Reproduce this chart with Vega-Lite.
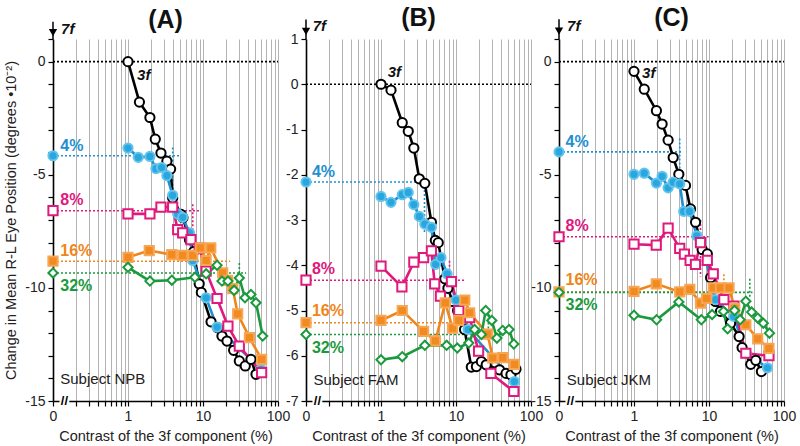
{
"$schema": "https://vega.github.io/schema/vega-lite/v6.json",
"padding": {"left": 3, "top": 5, "right": 4, "bottom": 2},
"background": "white",
"datasets": {
"pts": [
{"p":"A","s":"3f","x":1,"y":0},{"p":"A","s":"3f","x":1.42,"y":-1.79},{"p":"A","s":"3f","x":1.96,"y":-2.47},{"p":"A","s":"3f","x":2.31,"y":-3.43},{"p":"A","s":"3f","x":2.75,"y":-4.04},{"p":"A","s":"3f","x":3.3,"y":-4.4},{"p":"A","s":"3f","x":3.7,"y":-4.75},{"p":"A","s":"3f","x":3.94,"y":-6.03},{"p":"A","s":"3f","x":5.1,"y":-6.75},{"p":"A","s":"3f","x":5.4,"y":-6.9},{"p":"A","s":"3f","x":6.6,"y":-7.87},{"p":"A","s":"3f","x":7.5,"y":-8.4},{"p":"A","s":"3f","x":8.9,"y":-9.82},{"p":"A","s":"3f","x":9.5,"y":-10.2},{"p":"A","s":"3f","x":12.8,"y":-11.5},{"p":"A","s":"3f","x":15.7,"y":-11.76},{"p":"A","s":"3f","x":17.9,"y":-12.13},{"p":"A","s":"3f","x":20.9,"y":-12.35},{"p":"A","s":"3f","x":25.6,"y":-12.76},{"p":"A","s":"3f","x":30.5,"y":-13.23},{"p":"A","s":"3f","x":36.6,"y":-13.45},{"p":"A","s":"3f","x":43.6,"y":-13.16},{"p":"A","s":"3f","x":50.9,"y":-13.82},
{"p":"A","s":"4%","x":1,"y":-3.82},{"p":"A","s":"4%","x":1.37,"y":-4.23},{"p":"A","s":"4%","x":1.96,"y":-4.19},{"p":"A","s":"4%","x":2.36,"y":-4.73},{"p":"A","s":"4%","x":2.8,"y":-4.68},{"p":"A","s":"4%","x":3.3,"y":-5.04},{"p":"A","s":"4%","x":3.94,"y":-5.91},{"p":"A","s":"4%","x":4.6,"y":-6.73},{"p":"A","s":"4%","x":5.36,"y":-6.88},{"p":"A","s":"4%","x":6.6,"y":-7.57},{"p":"A","s":"4%","x":7.3,"y":-8.79},{"p":"A","s":"4%","x":11,"y":-10.44},{"p":"A","s":"4%","x":15.4,"y":-11.73},{"p":"A","s":"4%","x":59.3,"y":-13.6},
{"p":"A","s":"8%","x":1,"y":-6.73},{"p":"A","s":"8%","x":1.96,"y":-6.73},{"p":"A","s":"8%","x":2.75,"y":-6.43},{"p":"A","s":"8%","x":3.94,"y":-6.43},{"p":"A","s":"8%","x":4.6,"y":-7.43},{"p":"A","s":"8%","x":5.36,"y":-7.57},{"p":"A","s":"8%","x":6.9,"y":-7.87},{"p":"A","s":"8%","x":8.9,"y":-8.24},{"p":"A","s":"8%","x":11,"y":-9.26},{"p":"A","s":"8%","x":15.4,"y":-10.47},{"p":"A","s":"8%","x":21.5,"y":-11.69},{"p":"A","s":"8%","x":30.5,"y":-12.57},{"p":"A","s":"8%","x":60.5,"y":-13.75},
{"p":"A","s":"16%","x":1,"y":-8.65},{"p":"A","s":"16%","x":1.92,"y":-8.35},{"p":"A","s":"16%","x":3.84,"y":-8.53},{"p":"A","s":"16%","x":5.36,"y":-8.56},{"p":"A","s":"16%","x":7.3,"y":-8.56},{"p":"A","s":"16%","x":9.2,"y":-8.23},{"p":"A","s":"16%","x":11,"y":-8.79},{"p":"A","s":"16%","x":12.7,"y":-8.23},{"p":"A","s":"16%","x":18.3,"y":-9.34},{"p":"A","s":"16%","x":21.3,"y":-9.67},{"p":"A","s":"16%","x":24.9,"y":-10.03},{"p":"A","s":"16%","x":29,"y":-11.15},{"p":"A","s":"16%","x":41.6,"y":-12.2},{"p":"A","s":"16%","x":60.5,"y":-13.16},
{"p":"A","s":"32%","x":1,"y":-9.09},{"p":"A","s":"32%","x":1.96,"y":-9.7},{"p":"A","s":"32%","x":3.84,"y":-9.66},{"p":"A","s":"32%","x":7.8,"y":-9.53},{"p":"A","s":"32%","x":11,"y":-9.38},{"p":"A","s":"32%","x":15.4,"y":-9.0},{"p":"A","s":"32%","x":17.9,"y":-9.7},{"p":"A","s":"32%","x":21.5,"y":-9.7},{"p":"A","s":"32%","x":26,"y":-10.11},{"p":"A","s":"32%","x":30.5,"y":-9.56},{"p":"A","s":"32%","x":36.3,"y":-10.44},{"p":"A","s":"32%","x":43.6,"y":-10.29},{"p":"A","s":"32%","x":50.9,"y":-10.66},{"p":"A","s":"32%","x":62.5,"y":-12.13},
{"p":"B","s":"3f","x":1,"y":0},{"p":"B","s":"3f","x":1.36,"y":-0.13},{"p":"B","s":"3f","x":1.92,"y":-0.85},{"p":"B","s":"3f","x":2.31,"y":-1.04},{"p":"B","s":"3f","x":2.74,"y":-1.41},{"p":"B","s":"3f","x":3.24,"y":-2.09},{"p":"B","s":"3f","x":3.84,"y":-2.19},{"p":"B","s":"3f","x":4.7,"y":-3.05},{"p":"B","s":"3f","x":5.3,"y":-3.45},{"p":"B","s":"3f","x":5.8,"y":-3.5},{"p":"B","s":"3f","x":7.1,"y":-4.3},{"p":"B","s":"3f","x":7.8,"y":-4.51},{"p":"B","s":"3f","x":9,"y":-4.8},{"p":"B","s":"3f","x":10.5,"y":-5.0},{"p":"B","s":"3f","x":13,"y":-5.42},{"p":"B","s":"3f","x":16,"y":-6.25},{"p":"B","s":"3f","x":18.7,"y":-6.24},{"p":"B","s":"3f","x":21.8,"y":-6.13},{"p":"B","s":"3f","x":25.3,"y":-6.2},{"p":"B","s":"3f","x":38,"y":-6.31},{"p":"B","s":"3f","x":46.5,"y":-6.39},{"p":"B","s":"3f","x":54,"y":-6.42},{"p":"B","s":"3f","x":63,"y":-6.3},
{"p":"B","s":"4%","x":1,"y":-2.48},{"p":"B","s":"4%","x":1.36,"y":-2.61},{"p":"B","s":"4%","x":1.92,"y":-2.44},{"p":"B","s":"4%","x":2.31,"y":-2.39},{"p":"B","s":"4%","x":2.74,"y":-2.66},{"p":"B","s":"4%","x":3.24,"y":-2.92},{"p":"B","s":"4%","x":3.84,"y":-3.09},{"p":"B","s":"4%","x":4.7,"y":-3.16},{"p":"B","s":"4%","x":5.35,"y":-3.98},{"p":"B","s":"4%","x":6.3,"y":-3.83},{"p":"B","s":"4%","x":7.6,"y":-4.19},{"p":"B","s":"4%","x":10,"y":-4.77},{"p":"B","s":"4%","x":14.5,"y":-5.42},{"p":"B","s":"4%","x":60,"y":-6.57},
{"p":"B","s":"8%","x":1,"y":-4.02},{"p":"B","s":"8%","x":1.9,"y":-4.48},{"p":"B","s":"8%","x":2.74,"y":-3.93},{"p":"B","s":"8%","x":3.7,"y":-3.83},{"p":"B","s":"8%","x":4.7,"y":-3.68},{"p":"B","s":"8%","x":5.2,"y":-4.41},{"p":"B","s":"8%","x":6.2,"y":-4.68},{"p":"B","s":"8%","x":8.7,"y":-4.36},{"p":"B","s":"8%","x":10.9,"y":-5.0},{"p":"B","s":"8%","x":15.2,"y":-5.16},{"p":"B","s":"8%","x":20,"y":-5.9},{"p":"B","s":"8%","x":29.2,"y":-6.39},{"p":"B","s":"8%","x":59,"y":-6.79},
{"p":"B","s":"16%","x":1,"y":-5.22},{"p":"B","s":"16%","x":1.92,"y":-5.0},{"p":"B","s":"16%","x":3.7,"y":-5.46},{"p":"B","s":"16%","x":5.3,"y":-5.67},{"p":"B","s":"16%","x":7.2,"y":-4.83},{"p":"B","s":"16%","x":9,"y":-5.39},{"p":"B","s":"16%","x":10.9,"y":-5.22},{"p":"B","s":"16%","x":13.1,"y":-4.77},{"p":"B","s":"16%","x":15.2,"y":-5.05},{"p":"B","s":"16%","x":26.4,"y":-5.52},{"p":"B","s":"16%","x":30.9,"y":-6.05},{"p":"B","s":"16%","x":42,"y":-6.04},{"p":"B","s":"16%","x":60,"y":-6.19},
{"p":"B","s":"32%","x":1,"y":-6.09},{"p":"B","s":"32%","x":1.92,"y":-6.02},{"p":"B","s":"32%","x":3.84,"y":-5.77},{"p":"B","s":"32%","x":7.5,"y":-5.77},{"p":"B","s":"32%","x":10.4,"y":-5.83},{"p":"B","s":"32%","x":14.8,"y":-5.72},{"p":"B","s":"32%","x":17.7,"y":-5.42},{"p":"B","s":"32%","x":21.8,"y":-5.53},{"p":"B","s":"32%","x":24.9,"y":-5.0},{"p":"B","s":"32%","x":30,"y":-5.22},{"p":"B","s":"32%","x":35.1,"y":-5.61},{"p":"B","s":"32%","x":42,"y":-5.44},{"p":"B","s":"32%","x":51,"y":-5.42},{"p":"B","s":"32%","x":59,"y":-5.74},
{"p":"C","s":"3f","x":1,"y":-0.43},{"p":"C","s":"3f","x":1.37,"y":-1.22},{"p":"C","s":"3f","x":1.99,"y":-2.17},{"p":"C","s":"3f","x":2.37,"y":-2.76},{"p":"C","s":"3f","x":2.85,"y":-3.47},{"p":"C","s":"3f","x":3.33,"y":-4.24},{"p":"C","s":"3f","x":3.96,"y":-4.98},{"p":"C","s":"3f","x":4.86,"y":-5.47},{"p":"C","s":"3f","x":5.67,"y":-6.51},{"p":"C","s":"3f","x":6.62,"y":-7.1},{"p":"C","s":"3f","x":8.1,"y":-8.3},{"p":"C","s":"3f","x":9.5,"y":-8.5},{"p":"C","s":"3f","x":10.5,"y":-9.55},{"p":"C","s":"3f","x":12.2,"y":-10.6},{"p":"C","s":"3f","x":14.2,"y":-11.04},{"p":"C","s":"3f","x":19.4,"y":-11.56},{"p":"C","s":"3f","x":25.2,"y":-12.15},{"p":"C","s":"3f","x":27.6,"y":-12.64},{"p":"C","s":"3f","x":36,"y":-13.38},{"p":"C","s":"3f","x":42,"y":-13.2},{"p":"C","s":"3f","x":50,"y":-13.7},
{"p":"C","s":"4%","x":1,"y":-4.98},{"p":"C","s":"4%","x":1.37,"y":-4.93},{"p":"C","s":"4%","x":1.99,"y":-5.37},{"p":"C","s":"4%","x":2.37,"y":-5.07},{"p":"C","s":"4%","x":2.85,"y":-5.58},{"p":"C","s":"4%","x":3.33,"y":-5.33},{"p":"C","s":"4%","x":4.07,"y":-5.4},{"p":"C","s":"4%","x":4.6,"y":-6.62},{"p":"C","s":"4%","x":5.5,"y":-6.62},{"p":"C","s":"4%","x":6.9,"y":-7.7},{"p":"C","s":"4%","x":7.9,"y":-7.95},{"p":"C","s":"4%","x":12.2,"y":-10.52},{"p":"C","s":"4%","x":21.3,"y":-11.26},{"p":"C","s":"4%","x":31.3,"y":-12.89},{"p":"C","s":"4%","x":60,"y":-13.53},
{"p":"C","s":"8%","x":1,"y":-8.07},{"p":"C","s":"8%","x":1.98,"y":-8.11},{"p":"C","s":"8%","x":2.85,"y":-7.36},{"p":"C","s":"8%","x":4.07,"y":-8.25},{"p":"C","s":"8%","x":4.7,"y":-8.51},{"p":"C","s":"8%","x":5.6,"y":-8.78},{"p":"C","s":"8%","x":6.6,"y":-8.96},{"p":"C","s":"8%","x":7.7,"y":-8.0},{"p":"C","s":"8%","x":9.5,"y":-8.78},{"p":"C","s":"8%","x":11.4,"y":-9.38},{"p":"C","s":"8%","x":15.8,"y":-10.52},{"p":"C","s":"8%","x":21.5,"y":-10.81},{"p":"C","s":"8%","x":31,"y":-12.89},{"p":"C","s":"8%","x":63,"y":-13.0},
{"p":"C","s":"16%","x":1,"y":-10.15},{"p":"C","s":"16%","x":1.98,"y":-9.82},{"p":"C","s":"16%","x":4.07,"y":-10.18},{"p":"C","s":"16%","x":5.55,"y":-10.07},{"p":"C","s":"16%","x":7.7,"y":-10.67},{"p":"C","s":"16%","x":9.3,"y":-10.47},{"p":"C","s":"16%","x":11.4,"y":-10.0},{"p":"C","s":"16%","x":14.2,"y":-10.0},{"p":"C","s":"16%","x":18.5,"y":-10.0},{"p":"C","s":"16%","x":22,"y":-10.9},{"p":"C","s":"16%","x":31,"y":-11.63},{"p":"C","s":"16%","x":44.6,"y":-12.25},{"p":"C","s":"16%","x":63,"y":-12.67},
{"p":"C","s":"32%","x":1,"y":-11.21},{"p":"C","s":"32%","x":2,"y":-11.41},{"p":"C","s":"32%","x":3.96,"y":-10.62},{"p":"C","s":"32%","x":7.9,"y":-11.41},{"p":"C","s":"32%","x":11,"y":-11.18},{"p":"C","s":"32%","x":15.6,"y":-11.04},{"p":"C","s":"32%","x":17.7,"y":-11.81},{"p":"C","s":"32%","x":21.9,"y":-11.0},{"p":"C","s":"32%","x":26,"y":-11.41},{"p":"C","s":"32%","x":31,"y":-10.59},{"p":"C","s":"32%","x":37,"y":-11.07},{"p":"C","s":"32%","x":44.6,"y":-11.33},{"p":"C","s":"32%","x":53,"y":-11.56},{"p":"C","s":"32%","x":64,"y":-12.0}
],
"zp": [
{"p":"A","s":"4%","x":0.1,"y":-4.16},{"p":"A","s":"8%","x":0.1,"y":-6.59},{"p":"A","s":"16%","x":0.1,"y":-8.82},{"p":"A","s":"32%","x":0.1,"y":-9.34},
{"p":"B","s":"4%","x":0.1,"y":-2.16},{"p":"B","s":"8%","x":0.1,"y":-4.33},{"p":"B","s":"16%","x":0.1,"y":-5.27},{"p":"B","s":"32%","x":0.1,"y":-5.53},
{"p":"C","s":"4%","x":0.1,"y":-3.99},{"p":"C","s":"8%","x":0.1,"y":-7.74},{"p":"C","s":"16%","x":0.1,"y":-10.18},{"p":"C","s":"32%","x":0.1,"y":-10.2}
],
"hl": [
{"p":"A","s":"3f","x":0.1,"x2":100,"y":0},{"p":"A","s":"4%","x":0.1,"x2":4.8,"y":-4.16},{"p":"A","s":"8%","x":0.1,"x2":8.9,"y":-6.59},{"p":"A","s":"16%","x":0.1,"x2":23,"y":-8.82},{"p":"A","s":"32%","x":0.1,"x2":37.6,"y":-9.34},
{"p":"B","s":"3f","x":0.1,"x2":100,"y":0},{"p":"B","s":"4%","x":0.1,"x2":4.27,"y":-2.16},{"p":"B","s":"8%","x":0.1,"x2":13.1,"y":-4.33},{"p":"B","s":"16%","x":0.1,"x2":16,"y":-5.27},{"p":"B","s":"32%","x":0.1,"x2":19.5,"y":-5.53},
{"p":"C","s":"3f","x":0.1,"x2":100,"y":0},{"p":"C","s":"4%","x":0.1,"x2":4.37,"y":-3.99},{"p":"C","s":"8%","x":0.1,"x2":9.9,"y":-7.74},{"p":"C","s":"16%","x":0.1,"x2":16,"y":-10.18},{"p":"C","s":"32%","x":0.1,"x2":38,"y":-10.2}
],
"vl": [
{"p":"A","s":"4%","x":3.94,"y":-3.8,"y2":-5.9},{"p":"A","s":"8%","x":7.3,"y":-6.3,"y2":-8.1},{"p":"A","s":"16%","x":12.5,"y":-8.5,"y2":-9.3},{"p":"A","s":"32%","x":30.5,"y":-8.9,"y2":-9.6},
{"p":"B","s":"4%","x":3.8,"y":-2.16,"y2":-3.3},{"p":"B","s":"8%","x":8.2,"y":-3.9,"y2":-4.6},{"p":"B","s":"16%","x":14,"y":-4.9,"y2":-5.6},{"p":"B","s":"32%","x":27,"y":-5.0,"y2":-5.7},
{"p":"C","s":"4%","x":4.07,"y":-3.4,"y2":-5.7},{"p":"C","s":"8%","x":7.7,"y":-7.0,"y2":-9.5},{"p":"C","s":"16%","x":15.8,"y":-9.4,"y2":-10.6},{"p":"C","s":"32%","x":35,"y":-9.6,"y2":-10.4}
],
"lab": [
{"p":"A","s":"4%","t":"4%","x":0.125,"y":-3.75},{"p":"A","s":"8%","t":"8%","x":0.125,"y":-6.13},{"p":"A","s":"16%","t":"16%","x":0.125,"y":-8.38},{"p":"A","s":"32%","t":"32%","x":0.125,"y":-9.93},
{"p":"B","s":"4%","t":"4%","x":0.12,"y":-1.94},{"p":"B","s":"8%","t":"8%","x":0.12,"y":-4.09},{"p":"B","s":"16%","t":"16%","x":0.12,"y":-5.02},{"p":"B","s":"32%","t":"32%","x":0.12,"y":-5.83},
{"p":"C","s":"4%","t":"4%","x":0.122,"y":-3.55},{"p":"C","s":"8%","t":"8%","x":0.122,"y":-7.25},{"p":"C","s":"16%","t":"16%","x":0.122,"y":-9.67},{"p":"C","s":"32%","t":"32%","x":0.122,"y":-10.74}
],
"itx": [
{"p":"A","t":"3f","x":1.32,"y":-0.59},{"p":"A","t":"7f","x":0.128,"y":1.46},
{"p":"B","t":"3f","x":1.23,"y":0.26},{"p":"B","t":"7f","x":0.123,"y":1.28},
{"p":"C","t":"3f","x":1.28,"y":-0.5},{"p":"C","t":"7f","x":0.128,"y":1.57}
],
"arr": [
{"p":"A","x":0.1,"y":1,"y2":1.76,"ya":1.28},
{"p":"B","x":0.1,"y":1,"y2":1.43,"ya":1.17},
{"p":"C","x":0.1,"y":1,"y2":1.87,"ya":1.35}
],
"sub": [
{"p":"A","t":"Subject NPB","x":0.125,"y":-14.04},
{"p":"B","t":"Subject FAM","x":0.126,"y":-6.53},
{"p":"C","t":"Subject JKM","x":0.127,"y":-14.08}
],
"brk": [
{"p":"A","x":0.122,"x2":0.165,"xt":0.142,"y":-15},
{"p":"B","x":0.122,"x2":0.165,"xt":0.142,"y":-7},
{"p":"C","x":0.122,"x2":0.165,"xt":0.142,"y":-15}
]
},
"hconcat": [
{
"width": 225, "height": 362,
"title": {"text": "(A)"},
"layer": [
{"data": {"name": "hl"}, "transform": [{"filter": "datum.p == 'A'"}],
 "mark": {"type": "rule", "strokeDash": [2, 2], "strokeWidth": 1.6},
 "encoding": {
  "x": {"field": "x", "type": "quantitative", "scale": {"type": "log", "domain": [0.1, 100], "nice": false},
   "axis": {"values": [0.1,0.2,0.3,0.4,0.5,0.6,0.7,0.8,0.9,1,2,3,4,5,6,7,8,9,10,20,30,40,50,60,70,80,90,100], "tickCount": 40, "grid": true, "gridColor": "#b3b3b3", "gridWidth": 1, "labelExpr": "datum.value < 0.15 ? '0' : ((datum.value == 1 || datum.value == 10 || datum.value == 100) ? toString(datum.value) : '')", "title": "Contrast of the 3f component (%)", "labelOverlap": false, "labelFlush": false, "tickSize": 5, "labelPadding": 3, "titlePadding": 6}},
  "x2": {"field": "x2"},
  "y": {"field": "y", "type": "quantitative", "scale": {"domain": [-15, 1], "nice": false, "zero": false},
   "axis": {"values": [-15,-14,-13,-12,-11,-10,-9,-8,-7,-6,-5,-4,-3,-2,-1,0,1], "tickCount": 30, "grid": false, "labelExpr": "abs(round(datum.value)) % 5 == 0 ? toString(round(datum.value)) : ''", "title": "Change in Mean R-L Eye Position (degrees •10⁻²)", "labelOverlap": false, "tickSize": 5, "labelPadding": 3, "titlePadding": 6}},
  "color": {"field": "s", "type": "nominal", "scale": {"domain": ["3f","4%","8%","16%","32%"], "range": ["#000000","#1e90d0","#e0197d","#f08519","#1a9a3c"]}, "legend": null}
 }},
{"data": {"name": "vl"}, "transform": [{"filter": "datum.p == 'A'"}],
 "mark": {"type": "rule", "strokeDash": [2, 2], "strokeWidth": 1.6},
 "encoding": {"x": {"field": "x", "type": "quantitative"}, "y": {"field": "y", "type": "quantitative"}, "y2": {"field": "y2"}, "color": {"field": "s", "type": "nominal", "legend": null}}},
{"data": {"name": "pts"}, "transform": [{"filter": "datum.p == 'A'"}],
 "mark": {"type": "line", "strokeWidth": 2.6},
 "encoding": {"x": {"field": "x", "type": "quantitative"}, "y": {"field": "y", "type": "quantitative"}, "color": {"field": "s", "type": "nominal", "legend": null}}},
{"data": {"name": "pts"}, "transform": [{"filter": "datum.p == 'A'"}],
 "mark": {"type": "point", "strokeWidth": 2, "size": 85, "opacity": 1},
 "encoding": {"x": {"field": "x", "type": "quantitative"}, "y": {"field": "y", "type": "quantitative"},
  "shape": {"field": "s", "type": "nominal", "scale": {"domain": ["3f","4%","8%","16%","32%"], "range": ["circle","circle","square","square","diamond"]}, "legend": null},
  "fill": {"field": "s", "type": "nominal", "scale": {"domain": ["3f","4%","8%","16%","32%"], "range": ["#ffffff","#2aa6de","#ffffff","#f28a22","#ffffff"]}, "legend": null},
  "stroke": {"field": "s", "type": "nominal", "scale": {"domain": ["3f","4%","8%","16%","32%"], "range": ["#000000","#62c4ee","#e0197d","#f7a654","#1a9a3c"]}, "legend": null}}},
{"data": {"name": "zp"}, "transform": [{"filter": "datum.p == 'A'"}],
 "mark": {"type": "point", "strokeWidth": 2, "size": 85, "opacity": 1},
 "encoding": {"x": {"field": "x", "type": "quantitative"}, "y": {"field": "y", "type": "quantitative"},
  "shape": {"field": "s", "type": "nominal", "legend": null}, "fill": {"field": "s", "type": "nominal", "legend": null}, "stroke": {"field": "s", "type": "nominal", "legend": null}}},
{"data": {"name": "lab"}, "transform": [{"filter": "datum.p == 'A'"}],
 "mark": {"type": "text", "align": "left", "baseline": "middle", "fontSize": 16, "fontWeight": "bold"},
 "encoding": {"x": {"field": "x", "type": "quantitative"}, "y": {"field": "y", "type": "quantitative"}, "text": {"field": "t"}, "color": {"field": "s", "type": "nominal", "legend": null}}},
{"data": {"name": "itx"}, "transform": [{"filter": "datum.p == 'A'"}],
 "mark": {"type": "text", "align": "left", "baseline": "middle", "fontSize": 15, "fontWeight": "bold", "fontStyle": "italic", "color": "#111"},
 "encoding": {"x": {"field": "x", "type": "quantitative"}, "y": {"field": "y", "type": "quantitative"}, "text": {"field": "t"}}},
{"data": {"name": "arr"}, "transform": [{"filter": "datum.p == 'A'"}],
 "mark": {"type": "rule", "color": "#000", "strokeWidth": 1.5},
 "encoding": {"x": {"field": "x", "type": "quantitative"}, "y": {"field": "y", "type": "quantitative"}, "y2": {"field": "y2"}}},
{"data": {"name": "arr"}, "transform": [{"filter": "datum.p == 'A'"}],
 "mark": {"type": "point", "shape": "triangle-down", "filled": true, "color": "#000", "size": 70, "opacity": 1},
 "encoding": {"x": {"field": "x", "type": "quantitative"}, "y": {"field": "ya", "type": "quantitative"}}},
{"data": {"name": "sub"}, "transform": [{"filter": "datum.p == 'A'"}],
 "mark": {"type": "text", "align": "left", "baseline": "middle", "fontSize": 15, "color": "#222"},
 "encoding": {"x": {"field": "x", "type": "quantitative"}, "y": {"field": "y", "type": "quantitative"}, "text": {"field": "t"}}},
{"data": {"name": "brk"}, "transform": [{"filter": "datum.p == 'A'"}],
 "mark": {"type": "rule", "color": "#ffffff", "strokeWidth": 4},
 "encoding": {"x": {"field": "x", "type": "quantitative"}, "x2": {"field": "x2"}, "y": {"field": "y", "type": "quantitative"}}},
{"data": {"name": "brk"}, "transform": [{"filter": "datum.p == 'A'"}],
 "mark": {"type": "text", "text": "//", "align": "center", "baseline": "middle", "fontSize": 13, "fontWeight": "bold", "color": "#000"},
 "encoding": {"x": {"field": "xt", "type": "quantitative"}, "y": {"field": "y", "type": "quantitative"}}}
]
},
{
"width": 225, "height": 362,
"title": {"text": "(B)"},
"layer": [
{"data": {"name": "hl"}, "transform": [{"filter": "datum.p == 'B'"}],
 "mark": {"type": "rule", "strokeDash": [2, 2], "strokeWidth": 1.6},
 "encoding": {
  "x": {"field": "x", "type": "quantitative", "scale": {"type": "log", "domain": [0.1, 100], "nice": false},
   "axis": {"values": [0.1,0.2,0.3,0.4,0.5,0.6,0.7,0.8,0.9,1,2,3,4,5,6,7,8,9,10,20,30,40,50,60,70,80,90,100], "tickCount": 40, "grid": true, "gridColor": "#b3b3b3", "gridWidth": 1, "labelExpr": "datum.value < 0.15 ? '0' : ((datum.value == 1 || datum.value == 10 || datum.value == 100) ? toString(datum.value) : '')", "title": "Contrast of the 3f component (%)", "labelOverlap": false, "labelFlush": false, "tickSize": 5, "labelPadding": 3, "titlePadding": 6}},
  "x2": {"field": "x2"},
  "y": {"field": "y", "type": "quantitative", "scale": {"domain": [-7, 1], "nice": false, "zero": false},
   "axis": {"values": [-7,-6,-5,-4,-3,-2,-1,0,1], "tickCount": 30, "grid": false, "labelExpr": "toString(round(datum.value))", "title": null, "labelOverlap": false, "tickSize": 5, "labelPadding": 3}},
  "color": {"field": "s", "type": "nominal", "scale": {"domain": ["3f","4%","8%","16%","32%"], "range": ["#000000","#1e90d0","#e0197d","#f08519","#1a9a3c"]}, "legend": null}
 }},
{"data": {"name": "vl"}, "transform": [{"filter": "datum.p == 'B'"}],
 "mark": {"type": "rule", "strokeDash": [2, 2], "strokeWidth": 1.6},
 "encoding": {"x": {"field": "x", "type": "quantitative"}, "y": {"field": "y", "type": "quantitative"}, "y2": {"field": "y2"}, "color": {"field": "s", "type": "nominal", "legend": null}}},
{"data": {"name": "pts"}, "transform": [{"filter": "datum.p == 'B'"}],
 "mark": {"type": "line", "strokeWidth": 2.6},
 "encoding": {"x": {"field": "x", "type": "quantitative"}, "y": {"field": "y", "type": "quantitative"}, "color": {"field": "s", "type": "nominal", "legend": null}}},
{"data": {"name": "pts"}, "transform": [{"filter": "datum.p == 'B'"}],
 "mark": {"type": "point", "strokeWidth": 2, "size": 85, "opacity": 1},
 "encoding": {"x": {"field": "x", "type": "quantitative"}, "y": {"field": "y", "type": "quantitative"},
  "shape": {"field": "s", "type": "nominal", "scale": {"domain": ["3f","4%","8%","16%","32%"], "range": ["circle","circle","square","square","diamond"]}, "legend": null},
  "fill": {"field": "s", "type": "nominal", "scale": {"domain": ["3f","4%","8%","16%","32%"], "range": ["#ffffff","#2aa6de","#ffffff","#f28a22","#ffffff"]}, "legend": null},
  "stroke": {"field": "s", "type": "nominal", "scale": {"domain": ["3f","4%","8%","16%","32%"], "range": ["#000000","#62c4ee","#e0197d","#f7a654","#1a9a3c"]}, "legend": null}}},
{"data": {"name": "zp"}, "transform": [{"filter": "datum.p == 'B'"}],
 "mark": {"type": "point", "strokeWidth": 2, "size": 85, "opacity": 1},
 "encoding": {"x": {"field": "x", "type": "quantitative"}, "y": {"field": "y", "type": "quantitative"},
  "shape": {"field": "s", "type": "nominal", "legend": null}, "fill": {"field": "s", "type": "nominal", "legend": null}, "stroke": {"field": "s", "type": "nominal", "legend": null}}},
{"data": {"name": "lab"}, "transform": [{"filter": "datum.p == 'B'"}],
 "mark": {"type": "text", "align": "left", "baseline": "middle", "fontSize": 16, "fontWeight": "bold"},
 "encoding": {"x": {"field": "x", "type": "quantitative"}, "y": {"field": "y", "type": "quantitative"}, "text": {"field": "t"}, "color": {"field": "s", "type": "nominal", "legend": null}}},
{"data": {"name": "itx"}, "transform": [{"filter": "datum.p == 'B'"}],
 "mark": {"type": "text", "align": "left", "baseline": "middle", "fontSize": 15, "fontWeight": "bold", "fontStyle": "italic", "color": "#111"},
 "encoding": {"x": {"field": "x", "type": "quantitative"}, "y": {"field": "y", "type": "quantitative"}, "text": {"field": "t"}}},
{"data": {"name": "arr"}, "transform": [{"filter": "datum.p == 'B'"}],
 "mark": {"type": "rule", "color": "#000", "strokeWidth": 1.5},
 "encoding": {"x": {"field": "x", "type": "quantitative"}, "y": {"field": "y", "type": "quantitative"}, "y2": {"field": "y2"}}},
{"data": {"name": "arr"}, "transform": [{"filter": "datum.p == 'B'"}],
 "mark": {"type": "point", "shape": "triangle-down", "filled": true, "color": "#000", "size": 70, "opacity": 1},
 "encoding": {"x": {"field": "x", "type": "quantitative"}, "y": {"field": "ya", "type": "quantitative"}}},
{"data": {"name": "sub"}, "transform": [{"filter": "datum.p == 'B'"}],
 "mark": {"type": "text", "align": "left", "baseline": "middle", "fontSize": 15, "color": "#222"},
 "encoding": {"x": {"field": "x", "type": "quantitative"}, "y": {"field": "y", "type": "quantitative"}, "text": {"field": "t"}}},
{"data": {"name": "brk"}, "transform": [{"filter": "datum.p == 'B'"}],
 "mark": {"type": "rule", "color": "#ffffff", "strokeWidth": 4},
 "encoding": {"x": {"field": "x", "type": "quantitative"}, "x2": {"field": "x2"}, "y": {"field": "y", "type": "quantitative"}}},
{"data": {"name": "brk"}, "transform": [{"filter": "datum.p == 'B'"}],
 "mark": {"type": "text", "text": "//", "align": "center", "baseline": "middle", "fontSize": 13, "fontWeight": "bold", "color": "#000"},
 "encoding": {"x": {"field": "xt", "type": "quantitative"}, "y": {"field": "y", "type": "quantitative"}}}
]
},
{
"width": 225, "height": 362,
"title": {"text": "(C)"},
"layer": [
{"data": {"name": "hl"}, "transform": [{"filter": "datum.p == 'C'"}],
 "mark": {"type": "rule", "strokeDash": [2, 2], "strokeWidth": 1.6},
 "encoding": {
  "x": {"field": "x", "type": "quantitative", "scale": {"type": "log", "domain": [0.1, 100], "nice": false},
   "axis": {"values": [0.1,0.2,0.3,0.4,0.5,0.6,0.7,0.8,0.9,1,2,3,4,5,6,7,8,9,10,20,30,40,50,60,70,80,90,100], "tickCount": 40, "grid": true, "gridColor": "#b3b3b3", "gridWidth": 1, "labelExpr": "datum.value < 0.15 ? '0' : ((datum.value == 1 || datum.value == 10 || datum.value == 100) ? toString(datum.value) : '')", "title": "Contrast of the 3f component (%)", "labelOverlap": false, "labelFlush": false, "tickSize": 5, "labelPadding": 3, "titlePadding": 6}},
  "x2": {"field": "x2"},
  "y": {"field": "y", "type": "quantitative", "scale": {"domain": [-15, 1], "nice": false, "zero": false},
   "axis": {"values": [-15,-14,-13,-12,-11,-10,-9,-8,-7,-6,-5,-4,-3,-2,-1,0,1], "tickCount": 30, "grid": false, "labelExpr": "abs(round(datum.value)) % 5 == 0 ? toString(round(datum.value)) : ''", "title": null, "labelOverlap": false, "tickSize": 5, "labelPadding": 3}},
  "color": {"field": "s", "type": "nominal", "scale": {"domain": ["3f","4%","8%","16%","32%"], "range": ["#000000","#1e90d0","#e0197d","#f08519","#1a9a3c"]}, "legend": null}
 }},
{"data": {"name": "vl"}, "transform": [{"filter": "datum.p == 'C'"}],
 "mark": {"type": "rule", "strokeDash": [2, 2], "strokeWidth": 1.6},
 "encoding": {"x": {"field": "x", "type": "quantitative"}, "y": {"field": "y", "type": "quantitative"}, "y2": {"field": "y2"}, "color": {"field": "s", "type": "nominal", "legend": null}}},
{"data": {"name": "pts"}, "transform": [{"filter": "datum.p == 'C'"}],
 "mark": {"type": "line", "strokeWidth": 2.6},
 "encoding": {"x": {"field": "x", "type": "quantitative"}, "y": {"field": "y", "type": "quantitative"}, "color": {"field": "s", "type": "nominal", "legend": null}}},
{"data": {"name": "pts"}, "transform": [{"filter": "datum.p == 'C'"}],
 "mark": {"type": "point", "strokeWidth": 2, "size": 85, "opacity": 1},
 "encoding": {"x": {"field": "x", "type": "quantitative"}, "y": {"field": "y", "type": "quantitative"},
  "shape": {"field": "s", "type": "nominal", "scale": {"domain": ["3f","4%","8%","16%","32%"], "range": ["circle","circle","square","square","diamond"]}, "legend": null},
  "fill": {"field": "s", "type": "nominal", "scale": {"domain": ["3f","4%","8%","16%","32%"], "range": ["#ffffff","#2aa6de","#ffffff","#f28a22","#ffffff"]}, "legend": null},
  "stroke": {"field": "s", "type": "nominal", "scale": {"domain": ["3f","4%","8%","16%","32%"], "range": ["#000000","#62c4ee","#e0197d","#f7a654","#1a9a3c"]}, "legend": null}}},
{"data": {"name": "zp"}, "transform": [{"filter": "datum.p == 'C'"}],
 "mark": {"type": "point", "strokeWidth": 2, "size": 85, "opacity": 1},
 "encoding": {"x": {"field": "x", "type": "quantitative"}, "y": {"field": "y", "type": "quantitative"},
  "shape": {"field": "s", "type": "nominal", "legend": null}, "fill": {"field": "s", "type": "nominal", "legend": null}, "stroke": {"field": "s", "type": "nominal", "legend": null}}},
{"data": {"name": "lab"}, "transform": [{"filter": "datum.p == 'C'"}],
 "mark": {"type": "text", "align": "left", "baseline": "middle", "fontSize": 16, "fontWeight": "bold"},
 "encoding": {"x": {"field": "x", "type": "quantitative"}, "y": {"field": "y", "type": "quantitative"}, "text": {"field": "t"}, "color": {"field": "s", "type": "nominal", "legend": null}}},
{"data": {"name": "itx"}, "transform": [{"filter": "datum.p == 'C'"}],
 "mark": {"type": "text", "align": "left", "baseline": "middle", "fontSize": 15, "fontWeight": "bold", "fontStyle": "italic", "color": "#111"},
 "encoding": {"x": {"field": "x", "type": "quantitative"}, "y": {"field": "y", "type": "quantitative"}, "text": {"field": "t"}}},
{"data": {"name": "arr"}, "transform": [{"filter": "datum.p == 'C'"}],
 "mark": {"type": "rule", "color": "#000", "strokeWidth": 1.5},
 "encoding": {"x": {"field": "x", "type": "quantitative"}, "y": {"field": "y", "type": "quantitative"}, "y2": {"field": "y2"}}},
{"data": {"name": "arr"}, "transform": [{"filter": "datum.p == 'C'"}],
 "mark": {"type": "point", "shape": "triangle-down", "filled": true, "color": "#000", "size": 70, "opacity": 1},
 "encoding": {"x": {"field": "x", "type": "quantitative"}, "y": {"field": "ya", "type": "quantitative"}}},
{"data": {"name": "sub"}, "transform": [{"filter": "datum.p == 'C'"}],
 "mark": {"type": "text", "align": "left", "baseline": "middle", "fontSize": 15, "color": "#222"},
 "encoding": {"x": {"field": "x", "type": "quantitative"}, "y": {"field": "y", "type": "quantitative"}, "text": {"field": "t"}}},
{"data": {"name": "brk"}, "transform": [{"filter": "datum.p == 'C'"}],
 "mark": {"type": "rule", "color": "#ffffff", "strokeWidth": 4},
 "encoding": {"x": {"field": "x", "type": "quantitative"}, "x2": {"field": "x2"}, "y": {"field": "y", "type": "quantitative"}}},
{"data": {"name": "brk"}, "transform": [{"filter": "datum.p == 'C'"}],
 "mark": {"type": "text", "text": "//", "align": "center", "baseline": "middle", "fontSize": 13, "fontWeight": "bold", "color": "#000"},
 "encoding": {"x": {"field": "xt", "type": "quantitative"}, "y": {"field": "y", "type": "quantitative"}}}
]
}
],
"spacing": 28,
"bounds": "flush",
"resolve": {"scale": {"x": "independent", "y": "independent"}},
"config": {
 "font": "Liberation Sans",
 "view": {"stroke": null},
 "title": {"fontSize": 25, "fontWeight": "bold", "font": "Liberation Sans", "color": "#111", "frame": "group", "offset": -12},
 "axis": {"domainColor": "#000", "tickColor": "#000", "labelColor": "#222", "titleColor": "#222", "labelFontSize": 14, "titleFontSize": 14.5, "titleFontWeight": "normal", "domainWidth": 1.6, "tickWidth": 1.2, "labelFont": "Liberation Sans", "titleFont": "Liberation Sans"}
}
}
